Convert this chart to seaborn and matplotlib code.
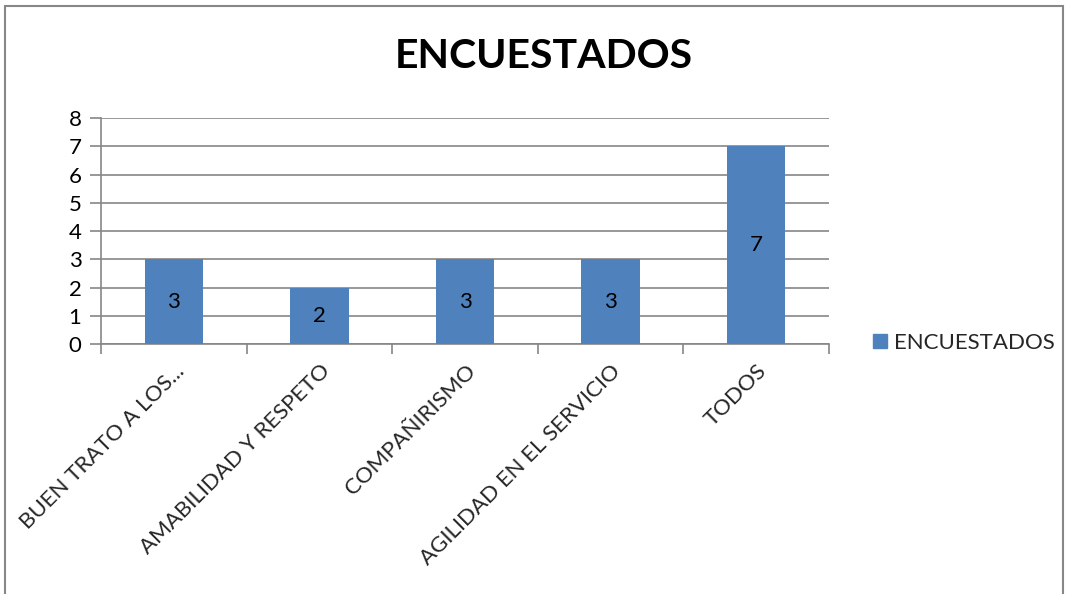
import matplotlib
matplotlib.use("Agg")
import matplotlib.pyplot as plt
import matplotlib.patches as mpatches
import seaborn as sns
import pandas as pd

categorias = ["BUEN TRATO A LOS...", "AMABILIDAD Y RESPETO", "COMPAÑIRISMO",
              "AGILIDAD EN EL SERVICIO", "TODOS"]
encuestados = [3, 2, 3, 3, 7]
serie = "ENCUESTADOS"
yticks = list(range(0, 9))

df = pd.DataFrame({"categoria": categorias, "valor": encuestados})

sns.set_theme(style="white")
plt.rcParams["font.family"] = ["Lato", "DejaVu Sans"]

W, H = 1068, 594
fig = plt.figure(figsize=(W / 100, H / 100), dpi=100)
ax = fig.add_axes([101 / W, 1 - 344 / H, (829 - 101) / W, (344 - 118) / H])

bar_color = "#4F81BD"
grid_color = "#868686"

sns.barplot(data=df, x="categoria", y="valor", color=bar_color, width=0.4,
            saturation=1, ax=ax, linewidth=0, edgecolor=bar_color, zorder=3)

ax.set_xlim(-0.5, len(categorias) - 0.5)
ax.set_ylim(0, 8)
ax.set_yticks(yticks)
ax.set_yticklabels([str(t) for t in yticks], fontsize=16)
ax.yaxis.grid(True, color=grid_color, lw=1.2, zorder=0)
ax.set_axisbelow(True)
ax.tick_params(axis="y", which="major", length=8, width=1.2, color=grid_color,
               pad=6, left=True, labelcolor="black")

# category labels on major ticks, boundary ticks as minor
ax.set_xticks(range(len(categorias)))
ax.set_xticklabels(categorias, rotation=45, ha="right", rotation_mode="anchor",
                   fontsize=16)
ax.tick_params(axis="x", which="major", length=0, pad=12)
ax.set_xticks([i - 0.5 for i in range(len(categorias) + 1)], minor=True)
ax.tick_params(axis="x", which="minor", length=7, width=1.2, color=grid_color,
               bottom=True, direction="out")

for s in ["top", "right"]:
    ax.spines[s].set_visible(False)
for s in ["left", "bottom"]:
    ax.spines[s].set_color(grid_color)
    ax.spines[s].set_linewidth(1.2)

ax.set_xlabel("")
ax.set_ylabel("")

for cont in ax.containers:
    ax.bar_label(cont, labels=[str(v) for v in encuestados], label_type="center",
                 fontsize=16, color="black")

fig.text(544 / W, 1 - 57 / H, serie, ha="center", va="center",
         fontsize=29.5, fontweight="bold", color="black")

handle = mpatches.Patch(color=bar_color, label=serie)
fig.legend(handles=[handle], loc="center left",
           bbox_to_anchor=(862 / W, 1 - 343 / H), frameon=False,
           fontsize=16, handlelength=0.62, handleheight=0.62,
           handletextpad=0.3, borderpad=0)

# outer chart frame
frame = mpatches.Rectangle((5 / W, -0.05), (1063 - 5) / W, 1.05 - 6 / H,
                           transform=fig.transFigure, fill=False,
                           edgecolor="#878787", lw=1.5, clip_on=False)
fig.patches.append(frame)

fig.savefig("out.png", dpi=100)
